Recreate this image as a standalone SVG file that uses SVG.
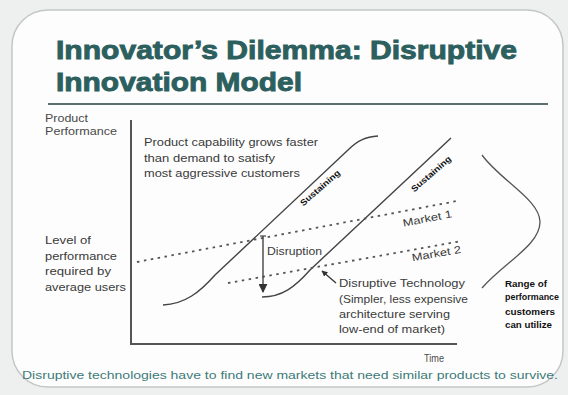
<svg xmlns="http://www.w3.org/2000/svg" width="568" height="395" viewBox="0 0 568 395">
<defs>
<style>
.title{font-family:"Liberation Sans",Arial,sans-serif;font-weight:bold;font-size:26px;fill:#2c5f5e;stroke:#2c5f5e;stroke-width:0.9}
.lbl{font-family:"Liberation Sans",Arial,sans-serif;font-size:10.5px;fill:#3a3a3a}
.ax{font-family:"Liberation Sans",Arial,sans-serif;font-size:10px;fill:#4a4a4a}
.bold{font-family:"Liberation Sans",Arial,sans-serif;font-size:8.5px;font-weight:bold;fill:#111}
.rng{font-family:"Liberation Sans",Arial,sans-serif;font-size:9.5px;font-weight:bold;fill:#111}
.cap{font-family:"Liberation Sans",Arial,sans-serif;font-size:11px;fill:#3e7a78}
.curve{fill:none;stroke:#444;stroke-width:1.4}
.dot{fill:none;stroke:#555;stroke-width:1.8;stroke-dasharray:2.5 4.5}
.axis{fill:none;stroke:#555;stroke-width:2}
</style>
<marker id="ah" viewBox="0 0 10 10" refX="9" refY="5" markerWidth="6" markerHeight="6" orient="auto" markerUnits="userSpaceOnUse">
<path d="M0,0 L10,5 L0,10 z" fill="#333"/>
</marker>
<marker id="ah2" viewBox="0 0 10 10" refX="9" refY="5" markerWidth="9" markerHeight="9" orient="auto" markerUnits="userSpaceOnUse">
<path d="M0,0 L10,5 L0,10 z" fill="#333"/>
</marker>
</defs>
<rect x="0" y="0" width="568" height="395" fill="#eef0f0"/>
<rect x="12" y="10" width="551" height="377" rx="36" ry="36" fill="#fdfdfd" stroke="#c4c6c6" stroke-width="1.5"/>
<g id="title">
<text class="title" x="56" y="59" textLength="461" lengthAdjust="spacingAndGlyphs">Innovator’s Dilemma: Disruptive</text>
<text class="title" x="56" y="91" textLength="246" lengthAdjust="spacingAndGlyphs">Innovation Model</text>
<line x1="48" y1="104" x2="548" y2="104" stroke="#5c6e6d" stroke-width="2"/>
</g>
<g id="axes">
<line class="axis" x1="131" y1="120" x2="131" y2="344"/>
<line class="axis" x1="130" y1="344" x2="457" y2="344"/>
<text class="ax" x="45" y="122" textLength="43" lengthAdjust="spacingAndGlyphs">Product</text>
<text class="ax" x="45" y="135" textLength="72" lengthAdjust="spacingAndGlyphs">Performance</text>
<text class="ax" x="424" y="362" textLength="20" lengthAdjust="spacingAndGlyphs">Time</text>
</g>
<g id="avg-users-label">
<text class="lbl" x="45" y="244" textLength="46" lengthAdjust="spacingAndGlyphs">Level of</text>
<text class="lbl" x="45" y="260" textLength="72" lengthAdjust="spacingAndGlyphs">performance</text>
<text class="lbl" x="45" y="275" textLength="66" lengthAdjust="spacingAndGlyphs">required by</text>
<text class="lbl" x="45" y="291" textLength="81" lengthAdjust="spacingAndGlyphs">average users</text>
</g>
<g id="capability-note">
<text class="lbl" x="144" y="146" textLength="174" lengthAdjust="spacingAndGlyphs">Product capability grows faster</text>
<text class="lbl" x="144" y="162" textLength="131" lengthAdjust="spacingAndGlyphs">than demand to satisfy</text>
<text class="lbl" x="144" y="177" textLength="156" lengthAdjust="spacingAndGlyphs">most aggressive customers</text>
</g>
<g id="connectors">
<path class="curve" d="M163,305 C185,304 200,292 215,275 L348,150 C358,140 366,137 378,136"/>
<path class="curve" d="M262,297 C282,297 295,287 310,270 L451,138"/>
<path class="dot" d="M137,262 L457,201"/>
<path class="dot" d="M228,283 L462,241"/>
<path d="M263,236 L263,292" stroke="#444" stroke-width="1.4" fill="none" marker-end="url(#ah2)"/>
<line x1="260" y1="236" x2="266" y2="236" stroke="#444" stroke-width="1.2"/>
<path d="M336,283 L322,271" stroke="#333" stroke-width="1.3" fill="none" marker-end="url(#ah)"/>
<path d="M482,155 C500,180 540,200 540,222 C540,245 505,262 482,288" fill="none" stroke="#555" stroke-width="1.3"/>
</g>
<g id="sustaining-1">
<text class="bold" x="0" y="0" transform="translate(322,190) rotate(-41)" text-anchor="middle" textLength="50" lengthAdjust="spacingAndGlyphs">Sustaining</text>
</g>
<g id="sustaining-2">
<text class="bold" x="0" y="0" transform="translate(433,176) rotate(-41)" text-anchor="middle" textLength="50" lengthAdjust="spacingAndGlyphs">Sustaining</text>
</g>
<g id="market-1">
<text class="lbl" x="0" y="0" transform="translate(428,222) rotate(-11)" text-anchor="middle" textLength="50" lengthAdjust="spacingAndGlyphs">Market 1</text>
</g>
<g id="market-2">
<text class="lbl" x="0" y="0" transform="translate(437,257) rotate(-10)" text-anchor="middle" textLength="50" lengthAdjust="spacingAndGlyphs">Market 2</text>
</g>
<g id="disruption">
<text class="lbl" x="267" y="255" textLength="55" lengthAdjust="spacingAndGlyphs">Disruption</text>
</g>
<g id="disruptive-tech">
<text class="lbl" x="339" y="287" textLength="126" lengthAdjust="spacingAndGlyphs">Disruptive Technology</text>
<text class="lbl" x="339" y="303" textLength="129" lengthAdjust="spacingAndGlyphs">(Simpler, less expensive</text>
<text class="lbl" x="339" y="318" textLength="111" lengthAdjust="spacingAndGlyphs">architecture serving</text>
<text class="lbl" x="339" y="333" textLength="106" lengthAdjust="spacingAndGlyphs">low-end of market)</text>
</g>
<g id="range">
<text class="rng" x="505" y="287" textLength="42" lengthAdjust="spacingAndGlyphs">Range of</text>
<text class="rng" x="505" y="300" textLength="54" lengthAdjust="spacingAndGlyphs">performance</text>
<text class="rng" x="505" y="315" textLength="50" lengthAdjust="spacingAndGlyphs">customers</text>
<text class="rng" x="505" y="328" textLength="47" lengthAdjust="spacingAndGlyphs">can utilize</text>
</g>
<g id="caption">
<text class="cap" x="22" y="379" textLength="536" lengthAdjust="spacingAndGlyphs">Disruptive technologies have to find new markets that need similar products to survive.</text>
</g>
</svg>
